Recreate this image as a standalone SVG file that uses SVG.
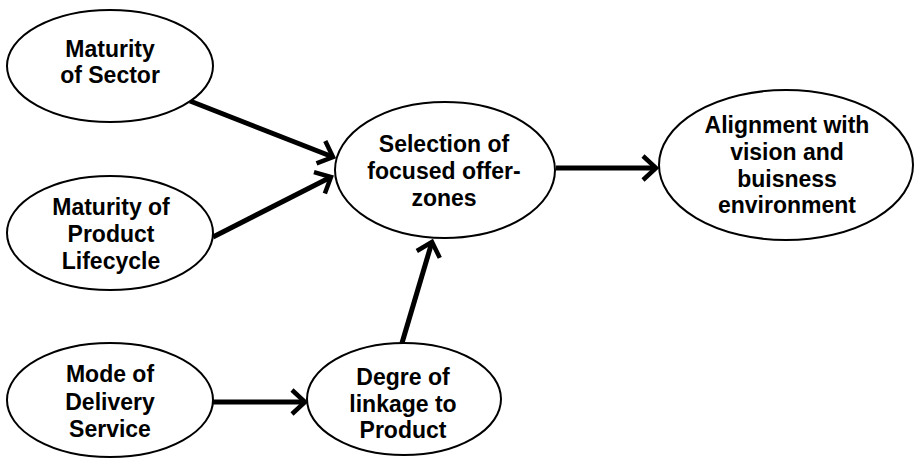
<svg xmlns="http://www.w3.org/2000/svg" width="916" height="459" viewBox="0 0 916 459">
<style>
.node ellipse{fill:#fff;stroke:#000;stroke-width:2}
.node text{font-family:"Liberation Sans",Arial,sans-serif;font-weight:bold;font-size:23px;text-anchor:middle;fill:#000}
.edge{stroke:#000;stroke-width:5;fill:none;marker-end:url(#arr)}
</style>
<defs>
<marker id="arr" markerUnits="userSpaceOnUse" markerWidth="40" markerHeight="40" refX="0" refY="0" orient="auto" overflow="visible">
<path d="M-13,-12 L0,0 L-13,12" fill="none" stroke="#000" stroke-width="4.5" stroke-linejoin="miter"/>
</marker>
</defs>
<rect width="916" height="459" fill="#fff"/>
<g id="connectors">
<path class="edge" d="M190,101 L333,157"/>
<path class="edge" d="M213,237 L331,177"/>
<path class="edge" d="M556,168 L656,168"/>
<path class="edge" d="M212,402 L305,402"/>
<path class="edge" d="M402,343 L432,242"/>
</g>
<g id="n1" class="node"><ellipse cx="110" cy="66" rx="103" ry="56"/>
<text x="110" y="57">Maturity</text><text x="110" y="83">of Sector</text></g>
<g id="n2" class="node"><ellipse cx="110" cy="233" rx="103" ry="57"/>
<text x="111" y="215">Maturity of</text><text x="111" y="242">Product</text><text x="111" y="269">Lifecycle</text></g>
<g id="n3" class="node"><ellipse cx="445" cy="170" rx="110" ry="68"/>
<text x="444" y="152">Selection of</text><text x="444" y="179">focused offer-</text><text x="444" y="206">zones</text></g>
<g id="n4" class="node"><ellipse cx="786" cy="165" rx="127" ry="75"/>
<text x="787" y="133">Alignment with</text><text x="787" y="160">vision and</text><text x="787" y="187">buisness</text><text x="787" y="213">environment</text></g>
<g id="n5" class="node"><ellipse cx="110" cy="400" rx="103" ry="57"/>
<text x="110" y="382">Mode of</text><text x="110" y="410">Delivery</text><text x="110" y="437">Service</text></g>
<g id="n6" class="node"><ellipse cx="404" cy="399" rx="97" ry="56"/>
<text x="403" y="385">Degre of</text><text x="403" y="412">linkage to</text><text x="403" y="438">Product</text></g>
</svg>
